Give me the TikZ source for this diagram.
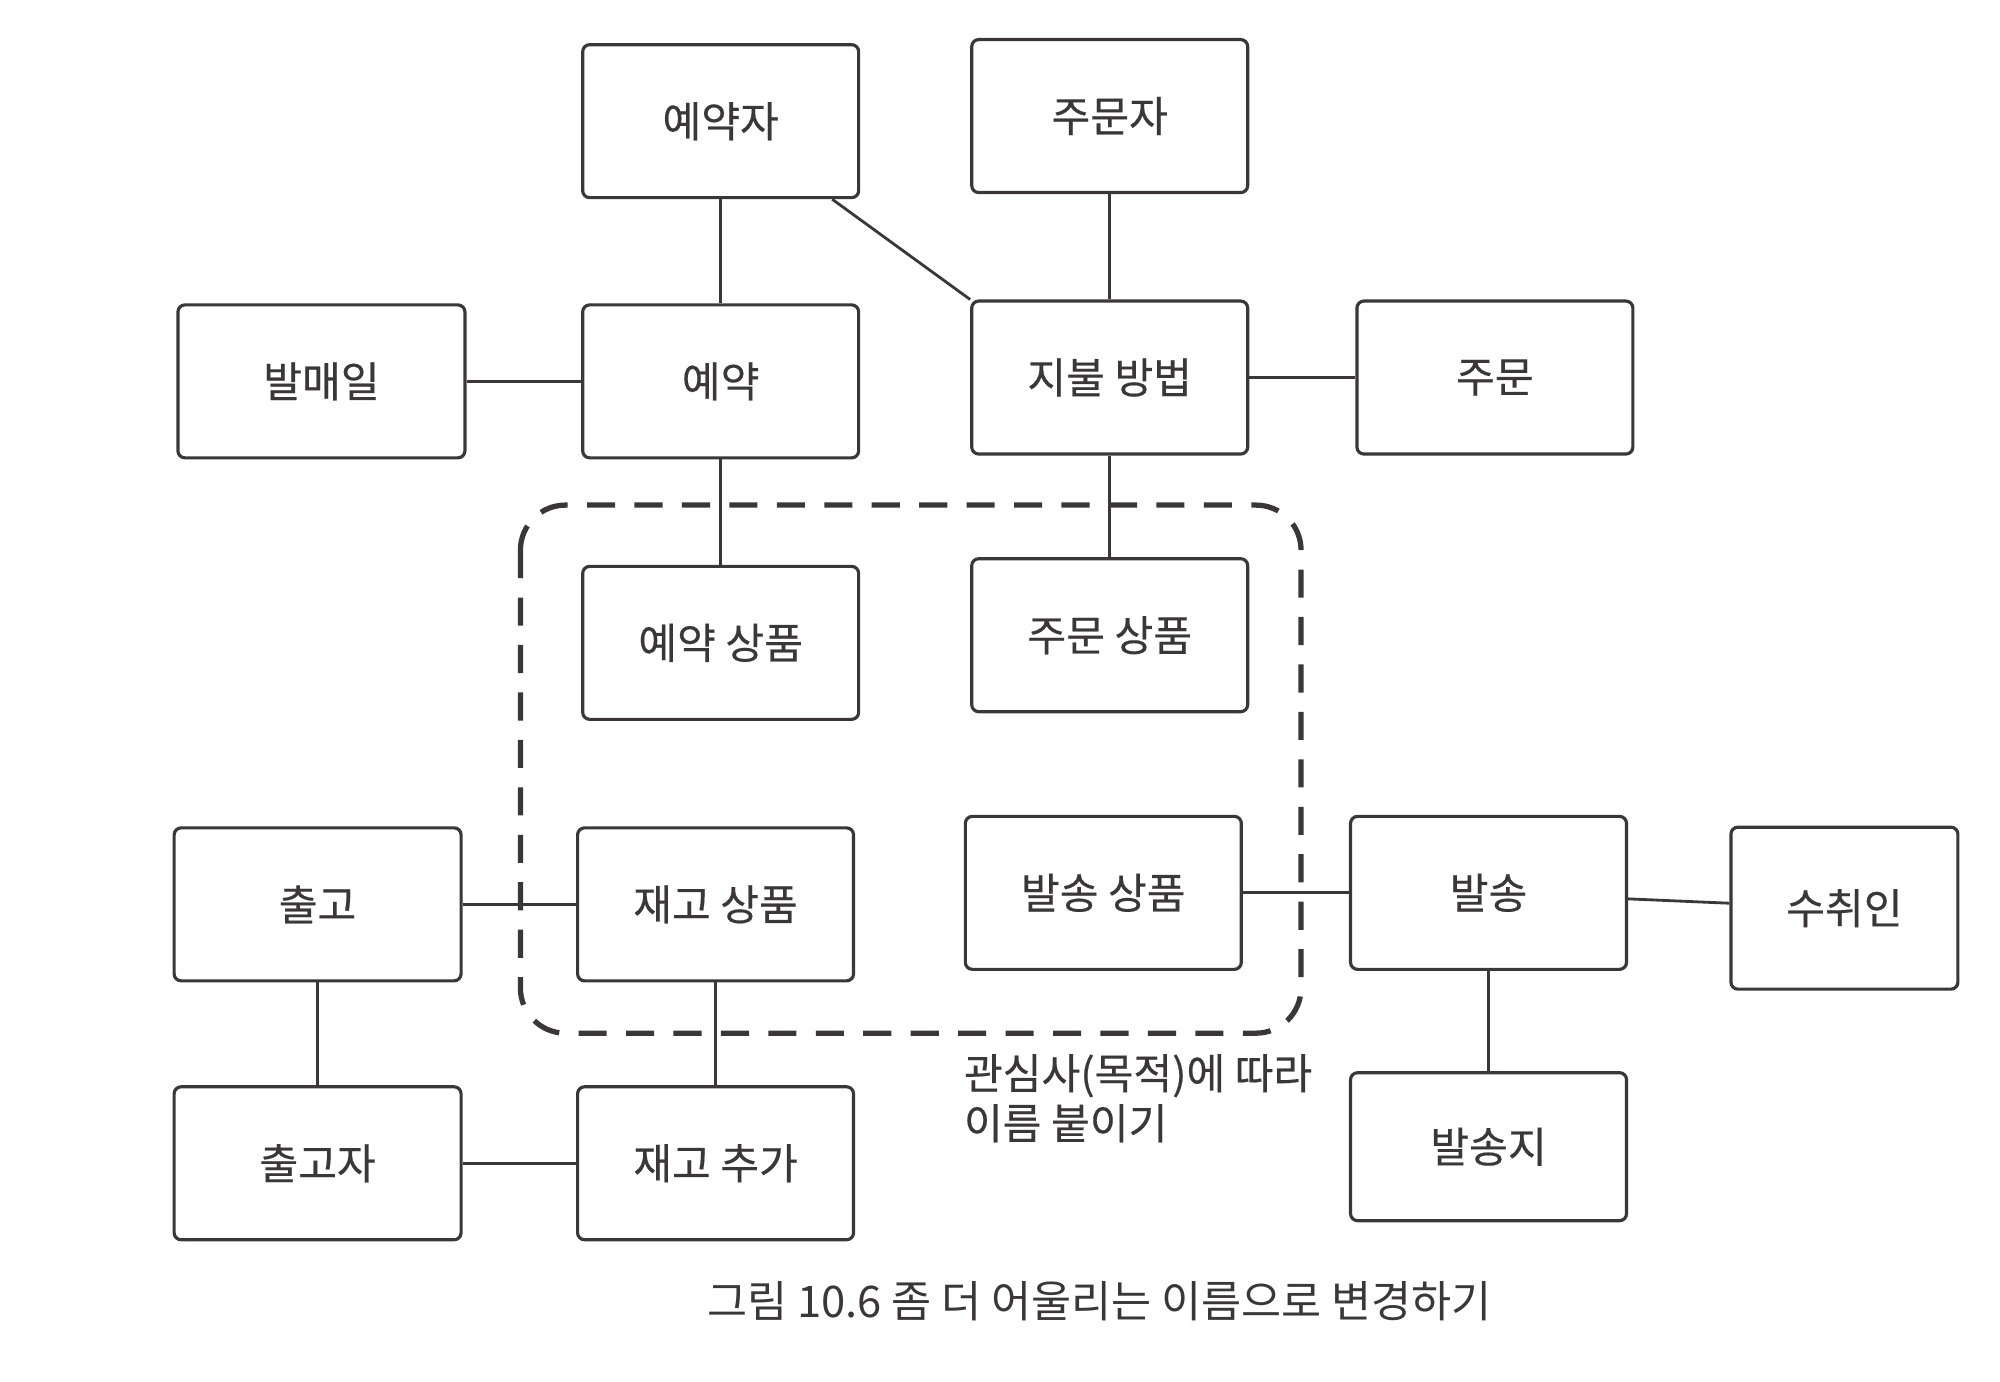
\documentclass[tikz,border=0pt]{standalone}
\usepackage{fontspec}
\setmainfont{Noto Sans CJK KR}
\newfontfamily\labelfont{Noto Sans CJK KR}[FakeBold=0.4]
\usepackage{xcolor}
\definecolor{inkgray}{HTML}{3B3739}
\tikzset{
  entity/.style={draw=inkgray, line width=0.9pt, rounded corners=2pt,
    minimum width=2.76cm, minimum height=1.53cm, text=inkgray,
    font=\labelfont\fontsize{12}{14}\selectfont},
  wide entity/.style={entity, minimum width=2.87cm},
  link/.style={draw=inkgray, line width=0.8pt},
  concern/.style={draw=inkgray, line width=1.5pt, dash pattern=on 8pt off 5.5pt,
    rounded corners=0.45cm}
}

\begin{document}
\begin{tikzpicture}[x=0.012755cm, y=-0.012755cm] % 1 unit = 1 px of the page

\useasboundingbox (0,0) rectangle (1568,1083);

\node[entity] (yeyakja) at (565,95) {예약자};
\node[entity] (jumunja) at (870,91) {주문자};
\node[wide entity] (balmaeil) at (252,299) {발매일};
\node[entity] (yeyak) at (565,299) {예약};
\node[entity] (jibul) at (870,296) {지불 방법};
\node[entity] (jumun) at (1172,296) {주문};
\node[entity] (yeyaksangpum) at (565,504) {예약 상품};
\node[entity] (jumunsangpum) at (870,498) {주문 상품};
\node[wide entity] (chulgo) at (249,709) {출고};
\node[entity] (jaegosangpum) at (561,709) {재고 상품};
\node[entity] (balsongsangpum) at (865,700) {발송 상품};
\node[entity] (balsong) at (1167,700) {발송};
\node[entity, minimum width=2.27cm, minimum height=1.62cm] (suchwiin) at (1446,712) {수취인};
\node[wide entity] (chulgoja) at (249,912) {출고자};
\node[entity] (jaegochuga) at (561,912) {재고 추가};
\node[entity, minimum height=1.48cm] (balsongji) at (1167,899) {발송지};

\draw[concern] (408,396) rectangle (1020,810);

\draw[link] (yeyakja) -- (yeyak);
\draw[link] (yeyakja.-35.5) -- (jibul.north west);
\draw[link] (jumunja) -- (jibul);
\draw[link] (balmaeil) -- (yeyak);
\draw[link] (yeyak) -- (yeyaksangpum);
\draw[link] (jibul) -- (jumun);
\draw[link] (jibul) -- (jumunsangpum);
\draw[link] (chulgo) -- (jaegosangpum);
\draw[link] (chulgo) -- (chulgoja);
\draw[link] (jaegosangpum) -- (jaegochuga);
\draw[link] (chulgoja) -- (jaegochuga);
\draw[link] (balsongsangpum) -- (balsong);
\draw[link] (balsong) -- (suchwiin);
\draw[link] (balsong) -- (balsongji);

\node[anchor=west, align=left, text=inkgray, font=\labelfont\fontsize{12}{14.2}\selectfont]
  (note) at (746,861) {관심사(목적)에 따라\\이름 붙이기};
\node[text=inkgray, font=\fontsize{12.4}{14}\selectfont]
  (caption) at (862,1020) {그림 10.6 좀 더 어울리는 이름으로 변경하기};
\end{tikzpicture}
\end{document}
